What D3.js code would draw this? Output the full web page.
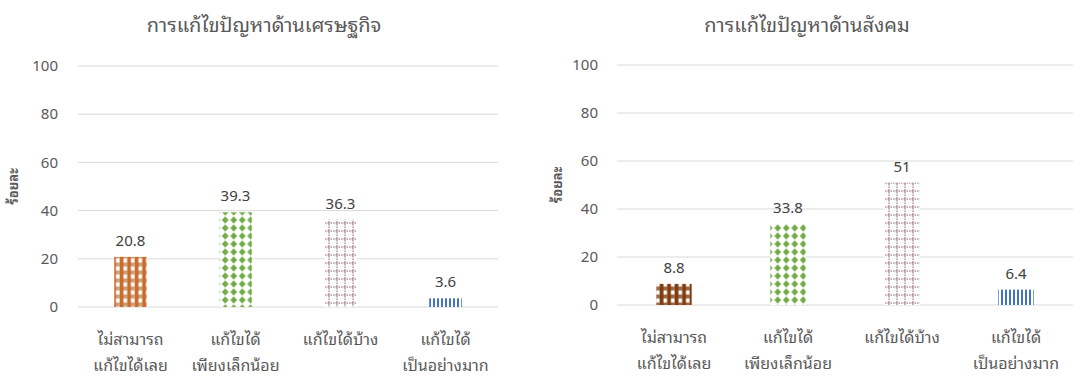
<!DOCTYPE html>
<html>
<head>
<meta charset="utf-8">
<script src="https://cdn.jsdelivr.net/npm/d3@7"></script>
<style>
  body { margin: 0; background: #fff; }
  svg { font-family: "Noto Sans Thai Looped", "Noto Sans Thai", Tahoma, "Noto Sans", sans-serif; }
</style>
</head>
<body>
<svg id="chart" width="1090" height="376"></svg>
<script>
const categories = [
  ['ไม่สามารถ', 'แก้ไขได้เลย'],
  ['แก้ไขได้', 'เพียงเล็กน้อย'],
  ['แก้ไขได้บ้าง'],
  ['แก้ไขได้', 'เป็นอย่างมาก'],
];
const econValues = [20.8, 39.3, 36.3, 3.6];
const socialValues = [8.8, 33.8, 51, 6.4];
const yTicks = [0, 20, 40, 60, 80, 100];
const titles = ['การแก้ไขปัญหาด้านเศรษฐกิจ', 'การแก้ไขปัญหาด้านสังคม'];
const yTitle = 'ร้อยละ';

const svg = d3.select('#chart');
const defs = svg.append('defs');

// fill patterns, one set per panel (first bar differs a bit in colour)
const makePatterns = (id, brick, mortar) => {
  const p1 = defs.append('pattern').attr('id', `grid-${id}`)
    .attr('width', 7.5).attr('height', 8).attr('patternUnits', 'userSpaceOnUse');
  p1.append('rect').attr('width', 7.5).attr('height', 8).attr('fill', mortar);
  p1.append('rect').attr('x', 0).attr('y', 0).attr('width', 3.5).attr('height', 8).attr('fill', brick);
  p1.append('rect').attr('x', 3.5).attr('y', 2.5).attr('width', 3.5).attr('height', 4).attr('fill', '#fff');

  const p2 = defs.append('pattern').attr('id', `diamond-${id}`)
    .attr('width', 8.5).attr('height', 8).attr('patternUnits', 'userSpaceOnUse');
  p2.append('rect').attr('width', 8.5).attr('height', 8).attr('fill', '#fff');
  p2.append('path').attr('d', 'M4.25,0.3 L7.6,4 L4.25,7.7 L0.9,4 Z').attr('fill', '#70ad47');

  const p3 = defs.append('pattern').attr('id', `dash-${id}`)
    .attr('width', 8).attr('height', 8).attr('patternUnits', 'userSpaceOnUse');
  p3.append('rect').attr('width', 8).attr('height', 8).attr('fill', '#fff');
  p3.append('path').attr('d', 'M1,0 V8 M0,7 H8')
    .attr('stroke', '#7a4a5c').attr('stroke-width', 0.9).attr('stroke-dasharray', '1.5,1').attr('fill', 'none');

  const p4 = defs.append('pattern').attr('id', `vline-${id}`)
    .attr('width', 4).attr('height', 4).attr('patternUnits', 'userSpaceOnUse');
  p4.append('rect').attr('width', 4).attr('height', 4).attr('fill', '#fff');
  p4.append('rect').attr('x', 1).attr('width', 2).attr('height', 4).attr('fill', '#4472c4');
};

makePatterns('a', '#d0692a', '#c9a27a');
makePatterns('b', '#843c0c', '#9a6a4a');

const panels = [
  { id: 'a', values: econValues, title: titles[0], x0: 78, x1: 498, yTop: 66, yBot: 307, tickX: 60, yTitleX: 13, titleX: 264 },
  { id: 'b', values: socialValues, title: titles[1], x0: 617, x1: 1073, yTop: 65, yBot: 305, tickX: 600, yTitleX: 557, titleX: 807 },
];

panels.forEach((p) => {
  const g = svg.append('g');
  const x = d3.scaleBand().domain(d3.range(categories.length)).range([p.x0, p.x1])
    .paddingInner(0.69).paddingOuter(0.345);
  const y = d3.scaleLinear().domain([0, 100]).range([p.yBot, p.yTop]);

  g.append('text')
    .attr('x', p.titleX).attr('y', 32)
    .attr('text-anchor', 'middle')
    .attr('font-size', 20)
    .attr('fill', '#595959')
    .text(p.title);

  // gridlines
  g.selectAll('.grid').data(yTicks).join('line')
    .attr('x1', p.x0).attr('x2', p.x1)
    .attr('y1', (d) => y(d)).attr('y2', (d) => y(d))
    .attr('stroke', '#d9d9d9').attr('stroke-width', 1);

  g.selectAll('.ytick').data(yTicks).join('text')
    .attr('x', p.tickX - 2).attr('y', (d) => y(d))
    .attr('dy', '0.35em')
    .attr('text-anchor', 'end')
    .attr('font-size', 15)
    .attr('fill', '#595959')
    .text((d) => d);

  g.append('text')
    .attr('transform', `translate(${p.yTitleX},${(p.yTop + p.yBot) / 2}) rotate(-90)`)
    .attr('text-anchor', 'middle')
    .attr('dy', '0.35em')
    .attr('font-size', 13)
    .attr('font-weight', 'bold')
    .attr('fill', '#595959')
    .text(yTitle);

  const fills = [`grid-${p.id}`, `diamond-${p.id}`, `dash-${p.id}`, `vline-${p.id}`];

  g.selectAll('.bar').data(p.values).join('rect')
    .attr('x', (d, i) => x(i))
    .attr('width', x.bandwidth())
    .attr('y', (d) => y(d))
    .attr('height', (d) => y(0) - y(d))
    .attr('fill', (d, i) => `url(#${fills[i]})`);

  g.selectAll('.val').data(p.values).join('text')
    .attr('x', (d, i) => x(i) + x.bandwidth() / 2)
    .attr('y', (d) => y(d) - 11)
    .attr('text-anchor', 'middle')
    .attr('font-size', 15)
    .attr('fill', '#404040')
    .text((d) => d);

  const labels = g.selectAll('.cat').data(categories).join('text')
    .attr('text-anchor', 'middle')
    .attr('font-size', 16)
    .attr('fill', '#595959');
  labels.selectAll('tspan').data((d) => d).join('tspan')
    .attr('x', function () {
      const i = categories.indexOf(d3.select(this.parentNode).datum());
      return x(i) + x.bandwidth() / 2;
    })
    .attr('y', (d, j) => p.yBot + 38 + j * 26)
    .text((d) => d);
});
</script>
</body>
</html>
